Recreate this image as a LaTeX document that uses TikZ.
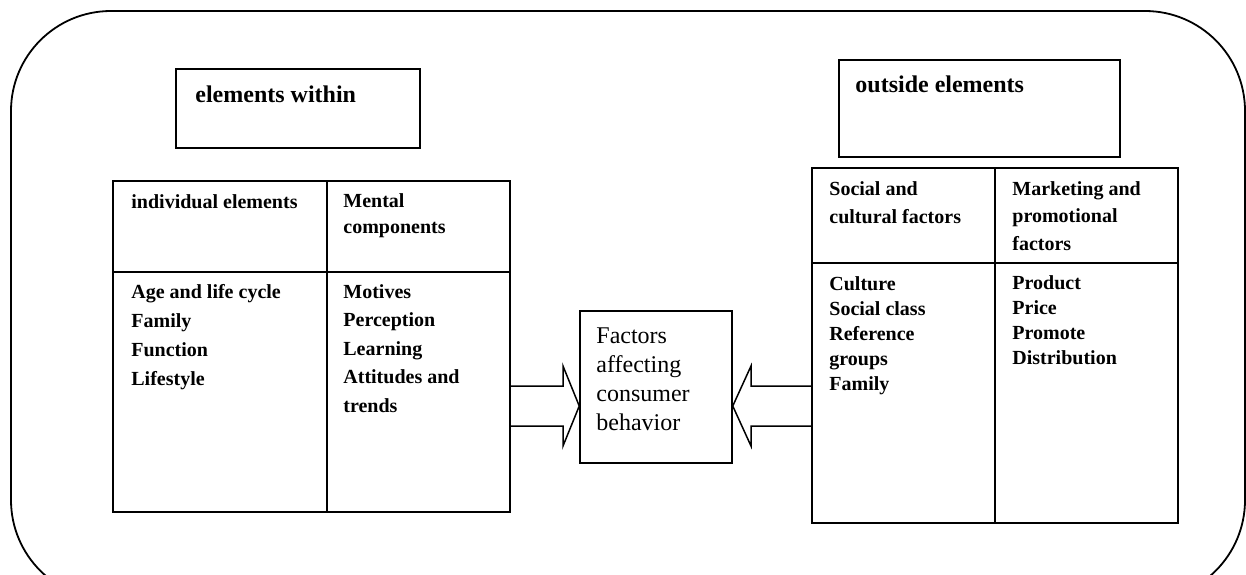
\documentclass[tikz,border=0pt]{standalone}
\usepackage{fontspec}
\setmainfont{Liberation Serif}
\usepackage{tikz}
\usetikzlibrary{fit}
\tikzset{
  cell/.style={draw, line width=0.75pt, inner sep=0pt},
  txt/.style={anchor=base west, inner sep=0pt, align=left, font=\bfseries\fontsize{10}{#1}\selectfont},
  txt/.default={14.5},
  headtxt/.style={anchor=base west, inner sep=0pt, font=\bfseries\fontsize{12}{14}\selectfont},
  blockarrow/.style={draw, line width=0.75pt, line join=miter}
}

\begin{document}
\begin{tikzpicture}[x=0.5pt, y=-0.5pt]
\clip (0,0) rectangle (1246,574);
\useasboundingbox (0,0) rectangle (1246,574);

\draw[line width=0.9pt, rounded corners=50pt] (11,11) rectangle (1245,600);

\node[cell, fit={(176,69) (420,148)}] (within) {};
\node[cell, fit={(839,60) (1120,157)}] (outside) {};
\node[headtxt] (withintxt) at (195,102) {elements within};
\node[headtxt] (outsidetxt) at (855,92) {outside elements};

\node[cell, fit={(113,181) (327,272)}] (indhead) {};
\node[cell, fit={(327,181) (510,272)}] (menhead) {};
\node[cell, fit={(113,272) (327,512)}] (indbody) {};
\node[cell, fit={(327,272) (510,512)}] (menbody) {};

\node[cell, fit={(812,168) (995,263)}] (sochead) {};
\node[cell, fit={(995,168) (1178,263)}] (mkthead) {};
\node[cell, fit={(812,263) (995,523)}] (socbody) {};
\node[cell, fit={(995,263) (1178,523)}] (mktbody) {};

\node[cell, fit={(580,311) (732,463)}] (factors) {};

% multi-line texts sit on the baseline of their last line
\node[txt] (indtxt) at (131,208) {individual elements};
\node[txt=13] (mentxt) at (343,233) {Mental\\components};
\node[txt] (indlist) at (131,385) {Age and life cycle\\Family\\Function\\Lifestyle};
\node[txt=14.25] (menlist) at (343,412) {Motives\\Perception\\Learning\\Attitudes and\\trends};

\node[txt=14] (soctxt) at (829,223) {Social and\\cultural factors};
\node[txt=13.75] (mkttxt) at (1012,250) {Marketing and\\promotional\\factors};
\node[txt=12.5] (soclist) at (829,390) {Culture\\Social class\\Reference\\groups\\Family};
\node[txt=12.5] (mktlist) at (1012,364) {Product\\Price\\Promote\\Distribution};

\node[anchor=base west, inner sep=0pt, align=left, font=\fontsize{12}{14.5}\selectfont] (factorstxt) at (596,430) {Factors\\affecting\\consumer\\behavior};

\draw[blockarrow] (menbody.east |- 0,386) -- (563,386) -- (563,366) -- (factors.west |- 0,406)
  -- (563,446) -- (563,426) -- (menbody.east |- 0,426);
\draw[blockarrow] (socbody.west |- 0,386) -- (751,386) -- (751,366) -- (factors.east |- 0,406)
  -- (751,446) -- (751,426) -- (socbody.west |- 0,426);

\end{tikzpicture}
\end{document}
